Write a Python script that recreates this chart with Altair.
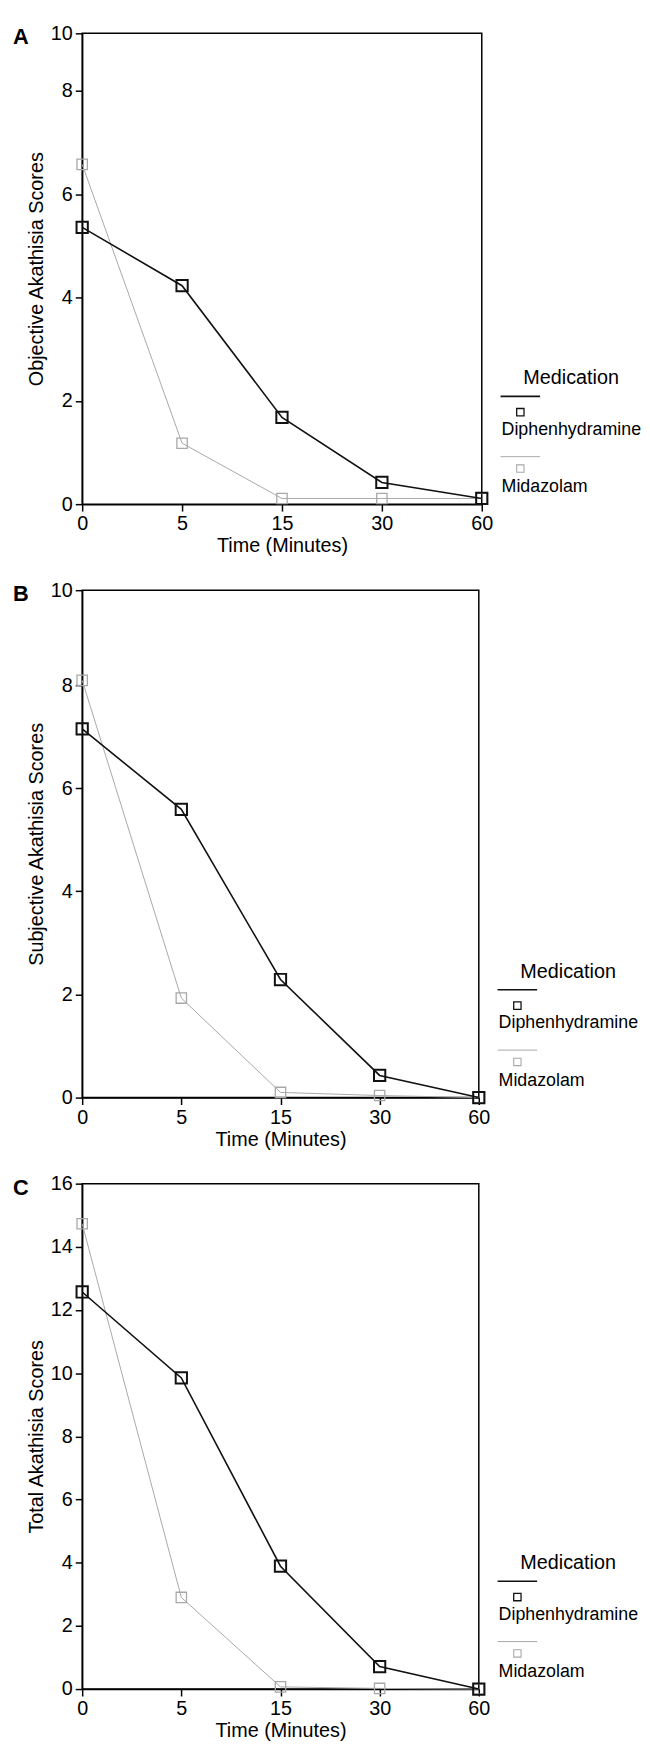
import altair as alt
import pandas as pd

# ---- data ----
times = ["0", "5", "15", "30", "60"]
meds = ["Diphenhydramine", "Midazolam"]
med_colors = ["#111111", "#a8a8a8"]

obj_diph = [5.36, 4.23, 1.68, 0.42, 0.11]
obj_mid = [6.58, 1.18, 0.11, 0.11, 0.11]

subj_diph = [7.15, 5.59, 2.29, 0.43, 0.0]
subj_mid = [8.10, 1.93, 0.10, 0.04, 0.0]

tot_diph = [12.57, 9.85, 3.89, 0.71, 0.0]
tot_mid = [14.73, 2.90, 0.07, 0.02, 0.0]

# y-axis tick breaks of the source figure (its top interval is drawn shorter)
obj_breaks = [0, 8, 10]
subj_breaks = [0, 8, 10]
tot_breaks = [0, 16]

panels = [
    ("A", "Objective Akathisia Scores", obj_diph, obj_mid, 10, obj_breaks, 404, 476, 0.1225),
    ("B", "Subjective Akathisia Scores", subj_diph, subj_mid, 10, subj_breaks, 401, 513, 0.187),
    ("C", "Total Akathisia Scores", tot_diph, tot_mid, 16, tot_breaks, 401, 511, None),
]

FONT = "Liberation Sans"


def panel(letter, ytitle, diph, mid, ymax, breaks, w, h, topfrac):
    df = pd.DataFrame({
        "Time": times * 2,
        "Score": diph + mid,
        "Medication": [meds[0]] * len(times) + [meds[1]] * len(times),
    })
    x = alt.X("Time:O", sort=times,
              scale=alt.Scale(type="point", padding=0),
              axis=alt.Axis(title="Time (Minutes)", labelAngle=0, labelPadding=3,
                            titlePadding=2))
    if topfrac is None:
        yscale = alt.Scale(domain=breaks, nice=False, zero=False)
    else:
        yscale = alt.Scale(domain=breaks, range=[h, h * topfrac, 0], nice=False, zero=False)
    y = alt.Y("Score:Q", scale=yscale,
              axis=alt.Axis(title=ytitle, values=list(range(0, ymax + 1, 2)),
                            labelPadding=3, titlePadding=4))
    color = alt.Color("Medication:N", scale=alt.Scale(domain=meds, range=med_colors),
                      legend=None)
    base = alt.Chart(df).encode(x=x, y=y, color=color)

    layers = []
    for med, lw, pw, sz in [(meds[1], 1.0, 1.3, 110), (meds[0], 1.6, 2.0, 130)]:
        sub = base.transform_filter(alt.datum.Medication == med)
        layers.append(sub.mark_line(strokeWidth=lw))
        layers.append(sub.mark_point(shape="square", filled=False, size=sz,
                                     strokeWidth=pw, opacity=1))

    one = pd.DataFrame({"letter": [letter], "title": ["Medication"],
                        "d": [meds[0]], "m": [meds[1]]})
    lb = alt.Chart(one)
    # panel letter
    layers.append(lb.mark_text(align="left", baseline="alphabetic", fontSize=22,
                               fontWeight="bold", color="black")
                  .encode(text="letter:N", x=alt.value(-70), y=alt.value(11)))
    # custom legend
    layers.append(lb.mark_text(align="left", baseline="middle", fontSize=20, color="black")
                  .encode(text="title:N", x=alt.value(w + 42), y=alt.value(h - 127)))
    rows = [(meds[0], med_colors[0], 1.6, 1.3, h - 109, h - 93, h - 75, "d"),
            (meds[1], med_colors[1], 1.0, 1.1, h - 48, h - 36, h - 17, "m")]
    for med, col, lw, pw, yl, ys, yt, fld in rows:
        layers.append(lb.mark_rule(color=col, strokeWidth=lw)
                      .encode(x=alt.value(w + 19), x2=alt.value(w + 59), y=alt.value(yl)))
        layers.append(lb.mark_point(shape="square", filled=False, size=55, color=col,
                                    strokeWidth=pw, opacity=1)
                      .encode(x=alt.value(w + 39), y=alt.value(ys)))
        layers.append(lb.mark_text(align="left", baseline="middle", fontSize=18,
                                   color="black")
                      .encode(text=f"{fld}:N", x=alt.value(w + 20), y=alt.value(yt)))

    return alt.layer(*layers).properties(width=w, height=h)


charts = [panel(*p) for p in panels]

chart = alt.vconcat(*charts, spacing=87, bounds="flush").properties(
    padding={"left": 4, "top": 5, "right": 0, "bottom": 0}
).configure(font=FONT).configure_view(
    stroke="black", strokeWidth=1.5
).configure_axis(
    grid=False, domainColor="black", domainWidth=1.5, tickColor="black",
    tickWidth=1.5, tickSize=7, labelFontSize=20, labelColor="black",
    titleFontSize=20, titleFontWeight="normal", titleColor="black",
    labelFont=FONT, titleFont=FONT
)

chart.save("out.html", embed_options={"renderer": "svg", "actions": False})
